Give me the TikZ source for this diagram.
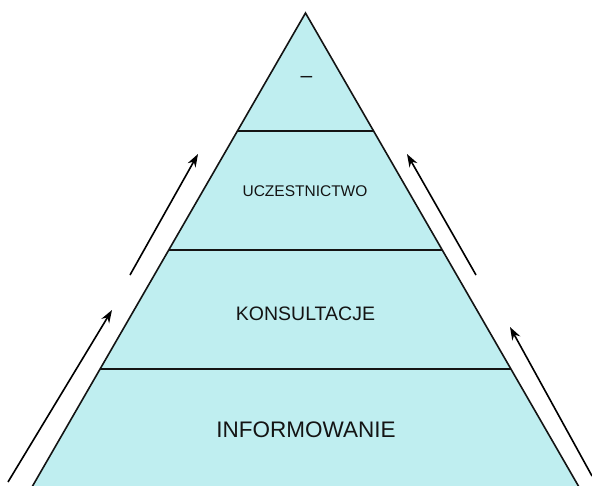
\documentclass[tikz,border=0pt]{standalone}
\usepackage{fontspec}
\setmainfont{Liberation Sans}
\usetikzlibrary{arrows.meta,calc}
\definecolor{pyrfill}{RGB}{191,238,240}
\definecolor{pyrline}{RGB}{20,20,20}
\tikzset{
  level/.style={fill=pyrfill, draw=pyrline, line width=1.6pt, line join=miter},
  divider/.style={draw=pyrline, line width=1.8pt},
  lbl/.style={anchor=base, inner sep=0pt, text=black!92},
  uparrow/.style={draw=black, line width=1.6pt, -{Stealth[length=13pt,width=9pt]}}
}
\begin{document}
\begin{tikzpicture}[x=1pt,y=-1pt]
\useasboundingbox (0,0) rectangle (592,485);
\clip (0,0) rectangle (592,485);
% pyramid corners
\coordinate (apex) at (305.5,13);
\coordinate (bl) at (32,487);
\coordinate (br) at (579,487);
\path[level] (apex) -- (br) -- (bl) -- cycle;
% dividers
\foreach \y/\n in {131/a,250/b,369/c}{
  \pgfmathsetmacro{\t}{(\y-13)/474}
  \coordinate (L\n) at ($(apex)!\t!(bl)$);
  \coordinate (R\n) at ($(apex)!\t!(br)$);
  \draw[divider] (L\n) -- (R\n);
}
% labels
\node[lbl, font=\fontsize{21}{24}\selectfont] (top) at (306.5,82) {–};
\node[lbl, font=\fontsize{15.5}{18}\selectfont] (ucz) at (305,196) {UCZESTNICTWO};
\node[lbl, font=\fontsize{19.5}{23}\selectfont] (kon) at (305.5,320) {KONSULTACJE};
\node[lbl, font=\fontsize{22.5}{27}\selectfont] (inf) at (306,437) {INFORMOWANIE};
% arrows
\coordinate (a1s) at (8,482);   \coordinate (a1e) at (112,310);
\coordinate (a2s) at (130,275); \coordinate (a2e) at (198,154);
\coordinate (a3s) at (476,275); \coordinate (a3e) at (407,154);
\coordinate (a4s) at (592,476); \coordinate (a4e) at (510,327);
\draw[uparrow] (a1s) -- (a1e);
\draw[uparrow] (a2s) -- (a2e);
\draw[uparrow] (a3s) -- (a3e);
\draw[uparrow] (a4s) -- (a4e);
\end{tikzpicture}
\end{document}
